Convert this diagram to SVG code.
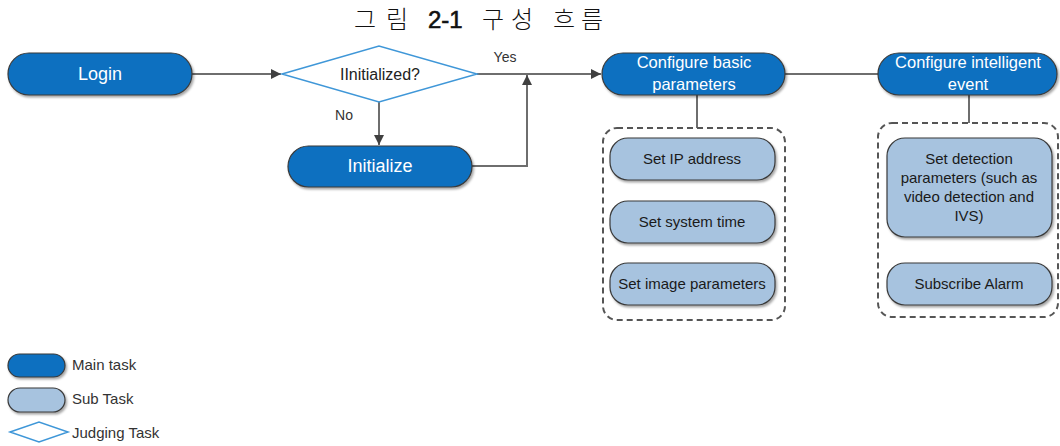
<svg xmlns="http://www.w3.org/2000/svg" width="1060" height="446" viewBox="0 0 1060 446">
<style>
.main{fill:#0A6FC0;stroke:#3a3a3a;stroke-width:1.2;filter:url(#sh)}
.sub{fill:#A7C3DF;stroke:#3a3a3a;stroke-width:1.2;filter:url(#sh)}
.dia{fill:#fff;stroke:#3F97D8;stroke-width:1.5}
.dash{fill:none;stroke:#555;stroke-width:2;stroke-dasharray:6 4}
.con{fill:none;stroke:#6e6e6e;stroke-width:2}
.tm{font-family:"Liberation Sans",Arial,sans-serif;fill:#fff;text-anchor:middle}
.ts{font-family:"Liberation Sans",Arial,sans-serif;fill:#1a1a1a;text-anchor:middle;font-size:15px}
.tl{font-family:"Liberation Sans",Arial,sans-serif;fill:#333;font-size:15px}
.tq{font-family:"Liberation Sans",Arial,sans-serif;fill:#222;text-anchor:middle;font-size:16px}
.tyn{font-family:"Liberation Sans",Arial,sans-serif;fill:#333;text-anchor:middle;font-size:14px}
.kr{font-family:"Noto Sans CJK KR",sans-serif;font-weight:300;font-size:24px;fill:#111}
</style>
<defs>
<filter id="sh" x="-10%" y="-20%" width="130%" height="150%">
<feDropShadow dx="1.5" dy="2" stdDeviation="1.2" flood-color="#000" flood-opacity="0.35"/>
</filter>
<marker id="ah" viewBox="0 0 10 10" refX="10" refY="5" markerWidth="10" markerHeight="10" markerUnits="userSpaceOnUse" orient="auto">
<path d="M0,0 L10,5 L0,10 z" fill="#404040"/>
</marker>
</defs>

<g id="title">
<text class="kr" y="28"><tspan x="354 386">그림</tspan></text>
<text x="428" y="28" font-family="Liberation Sans,Arial,sans-serif" font-size="24" fill="#111" stroke="#111" stroke-width="0.6">2-1</text>
<text class="kr" y="28"><tspan x="482 511">구성</tspan><tspan x="553 581">흐름</tspan></text>
</g>

<g id="connectors">
<line class="con" x1="192" y1="74" x2="281" y2="74" marker-end="url(#ah)"/>
<line class="con" x1="477" y1="74" x2="601" y2="74" marker-end="url(#ah)"/>
<line class="con" x1="379" y1="102" x2="379" y2="145" marker-end="url(#ah)"/>
<polyline class="con" points="472,166 527,166 527,75" marker-end="url(#ah)"/>
<line class="con" x1="785" y1="74" x2="878" y2="74"/>
<line class="con" x1="697" y1="95" x2="697" y2="128"/>
<line class="con" x1="969" y1="95" x2="969" y2="123"/>
<text x="505" y="62" class="tyn">Yes</text>
<text x="344" y="120" class="tyn">No</text>
</g>

<g id="login">
<rect class="main" x="8" y="53" width="184" height="42" rx="21"/>
<text class="tm" x="100" y="80" font-size="18">Login</text>
</g>

<g id="initialized">
<polygon class="dia" points="282,74 379,46 477,74 379,102"/>
<text class="tq" x="380" y="80">IInitialized?</text>
</g>

<g id="initialize">
<rect class="main" x="288" y="146" width="184" height="41" rx="20.5"/>
<text class="tm" x="380" y="172" font-size="18">Initialize</text>
</g>

<g id="configure-basic">
<rect class="main" x="602" y="53" width="183" height="42" rx="21"/>
<text class="tm" x="694" y="68" font-size="16.5">Configure basic</text>
<text class="tm" x="694" y="90" font-size="16.5">parameters</text>
</g>

<g id="basic-group">
<rect class="dash" x="603" y="128" width="182" height="192" rx="14"/>
</g>

<g id="set-ip">
<rect class="sub" x="610" y="138" width="165" height="42" rx="18"/>
<text class="ts" x="692" y="164">Set IP address</text>
</g>

<g id="set-time">
<rect class="sub" x="610" y="201" width="165" height="42" rx="18"/>
<text class="ts" x="692" y="227">Set system time</text>
</g>

<g id="set-image">
<rect class="sub" x="610" y="263" width="165" height="42" rx="18"/>
<text class="ts" x="692" y="289">Set image parameters</text>
</g>

<g id="configure-intelligent">
<rect class="main" x="878" y="53" width="179" height="42" rx="21"/>
<text class="tm" x="968" y="68" font-size="16.5">Configure intelligent</text>
<text class="tm" x="968" y="90" font-size="16.5">event</text>
</g>

<g id="intelligent-group">
<rect class="dash" x="878" y="123" width="180" height="194" rx="14"/>
</g>

<g id="set-detection">
<rect class="sub" x="887" y="138" width="165" height="99" rx="18"/>
<text class="ts" x="969" y="164">Set detection</text>
<text class="ts" x="969" y="183">parameters (such as</text>
<text class="ts" x="969" y="202">video detection and</text>
<text class="ts" x="969" y="221">IVS)</text>
</g>

<g id="subscribe-alarm">
<rect class="sub" x="887" y="263" width="165" height="42" rx="18"/>
<text class="ts" x="969" y="289">Subscribe Alarm</text>
</g>

<g id="legend">
<rect class="main" x="8" y="354" width="57" height="23" rx="11.5"/>
<text class="tl" x="72" y="370">Main task</text>
<rect class="sub" x="8" y="388" width="57" height="24" rx="12"/>
<text class="tl" x="72" y="404">Sub Task</text>
<polygon class="dia" points="10,432 39,422 68,432 39,442"/>
<text class="tl" x="72" y="438">Judging Task</text>
</g>
</svg>
